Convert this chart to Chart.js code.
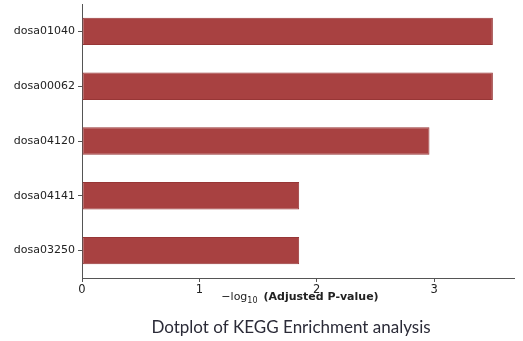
<!DOCTYPE html>
<html>
<head>
<meta charset="utf-8">
<script src="https://cdn.jsdelivr.net/npm/chart.js@4"></script>
<style>
  html, body { margin: 0; padding: 0; background: #fff; }
  #wrap { width: 523px; height: 341px; }
</style>
</head>
<body>
<div id="wrap"><canvas id="myChart" width="523" height="341"></canvas></div>
<script>
// KEGG pathways and their -log10 adjusted p-values
const pathways = ["dosa01040", "dosa00062", "dosa04120", "dosa04141", "dosa03250"];
const negLogPadj = [3.50, 3.50, 2.96, 1.85, 1.85];
const xTicks = [0, 1, 2, 3];

const axisColor = "#555";
const textColor = "#222";

// draws the mixed-style x label and the caption under the chart
const bottomText = {
  id: "bottomText",
  afterDraw(chart) {
    const c = chart.ctx;
    const xs = chart.scales.x;
    c.save();
    c.fillStyle = textColor;
    c.textBaseline = "alphabetic";
    c.textAlign = "left";
    const y = xs.bottom - 41;
    const pre = "\u2212log";
    const sub = "10";
    const bold = "(Adjusted P-value)";
    c.font = "11px 'DejaVu Sans'";
    const w1 = c.measureText(pre).width;
    c.font = "8px 'DejaVu Sans'";
    const w2 = c.measureText(sub).width;
    c.font = "bold 11px 'DejaVu Sans'";
    const w3 = c.measureText(bold).width;
    const gap = 6;
    const total = w1 + w2 + gap + w3;
    let x = (xs.left + xs.right) / 2 - total / 2 + 2;
    c.font = "11px 'DejaVu Sans'";
    c.fillText(pre, x, y);
    x += w1;
    c.font = "8px 'DejaVu Sans'";
    c.fillText(sub, x, y + 3);
    x += w2 + gap;
    c.font = "bold 11px 'DejaVu Sans'";
    c.fillText(bold, x, y);

    c.font = "17px Lato";
    c.fillStyle = "#2b2b38";
    c.textAlign = "center";
    c.fillText("Dotplot of KEGG Enrichment analysis", 291, 333);
    c.restore();
  }
};

const ctx = document.getElementById("myChart");
new Chart(ctx, {
  type: "bar",
  data: {
    labels: pathways,
    datasets: [
      {
        label: "-log10 (Adjusted P-value)",
        data: negLogPadj,
        backgroundColor: "#a84141",
        borderColor: "#973636",
        borderWidth: 1,
        borderSkipped: false,
        categoryPercentage: 1,
        barPercentage: 0.5,
      },
    ],
  },
  options: {
    indexAxis: "y",
    responsive: false,
    animation: false,
    devicePixelRatio: 1,
    layout: { padding: { top: 4, right: 9, left: 0, bottom: 0 } },
    plugins: {
      legend: { display: false },
      tooltip: { enabled: false },
    },
    scales: {
      x: {
        min: 0,
        max: 3.68,
        afterBuildTicks: (scale) => {
          scale.ticks = xTicks.map((v) => ({ value: v }));
        },
        afterFit: (scale) => {
          scale.height = 63;
          scale.paddingRight = 0;
        },
        grid: {
          drawOnChartArea: false,
          drawTicks: true,
          tickLength: 4,
          color: axisColor,
        },
        border: { color: axisColor, width: 1 },
        ticks: {
          color: textColor,
          font: { family: "DejaVu Sans", size: 11.5 },
          padding: 1,
          maxRotation: 0,
        },
      },
      y: {
        afterFit: (scale) => {
          scale.width = 82;
          scale.paddingTop = 0;
          scale.paddingBottom = 0;
        },
        grid: {
          offset: false,
          drawOnChartArea: false,
          drawTicks: true,
          tickLength: 4,
          color: axisColor,
        },
        border: { color: axisColor, width: 1 },
        ticks: {
          color: textColor,
          font: { family: "DejaVu Sans", size: 11 },
          padding: 3,
        },
      },
    },
  },
  plugins: [bottomText],
});
</script>
</body>
</html>
